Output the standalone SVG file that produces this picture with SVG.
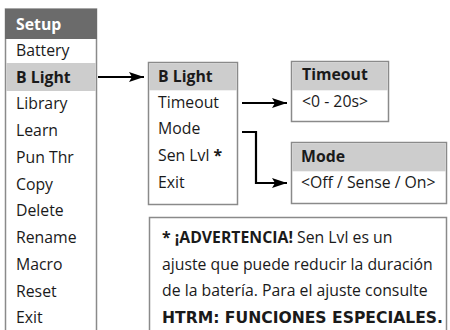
<svg xmlns="http://www.w3.org/2000/svg" width="450" height="330" viewBox="0 0 450 330">
<defs>
<style>
.t{font-family:"Open Sans","Noto Sans",sans-serif;font-size:15.8px;fill:#1a1a1a}
.b{font-weight:bold}
.w{font-family:"DejaVu Sans",sans-serif;font-size:15.6px}
.box{fill:#fff;stroke:#8a8a8a;stroke-width:1.5}
.hd{fill:#cdcdcd}
.ln{fill:none;stroke:#000;stroke-width:2.2}
</style>
<marker id="ah" markerWidth="15" markerHeight="10" refX="15" refY="5" orient="auto" markerUnits="userSpaceOnUse">
<path d="M0,0 L15,5 L0,10 L3,5 Z" fill="#000"/>
</marker>
</defs>
<rect width="450" height="330" fill="#fff"/>
<g id="setup">
<rect class="box" x="5.5" y="9" width="91" height="330"/>
<rect x="5" y="9" width="92" height="30" fill="#6b6b6b"/>
<rect class="hd" x="6.3" y="63" width="89.5" height="28"/>
<text class="t b" x="16" y="30" style="fill:#fff">Setup</text>
<text class="t" x="16" y="56">Battery</text>
<text class="t b" x="16" y="83">B Light</text>
<text class="t" x="16" y="109">Library</text>
<text class="t" x="16" y="136">Learn</text>
<text class="t" x="16" y="163">Pun Thr</text>
<text class="t" x="16" y="190">Copy</text>
<text class="t" x="16" y="216">Delete</text>
<text class="t" x="16" y="243">Rename</text>
<text class="t" x="16" y="270">Macro</text>
<text class="t" x="16" y="297">Reset</text>
<text class="t" x="16" y="323">Exit</text>
</g>
<g id="blight">
<rect class="box" x="148.5" y="62.5" width="89" height="142"/>
<rect class="hd" x="149.3" y="63.3" width="87.4" height="27"/>
<text class="t b" x="158" y="82">B Light</text>
<text class="t" x="158" y="108">Timeout</text>
<text class="t" x="158" y="134">Mode</text>
<text class="t" x="158" y="161">Sen Lvl <tspan class="b">*</tspan></text>
<text class="t" x="158" y="188">Exit</text>
</g>
<g id="timeout">
<rect class="box" x="291.5" y="61.5" width="97" height="60"/>
<rect class="hd" x="292.3" y="62.3" width="95.4" height="28"/>
<text class="t b" x="302" y="80">Timeout</text>
<text class="t" x="302" y="107">&lt;0 - 20s&gt;</text>
</g>
<g id="mode">
<rect class="box" x="291.5" y="142.5" width="155" height="61"/>
<rect class="hd" x="292.3" y="143.3" width="153.4" height="28"/>
<text class="t b" x="301" y="162">Mode</text>
<text class="t" x="301" y="188">&lt;Off / Sense / On&gt;</text>
</g>
<g id="note">
<rect class="box" x="149.5" y="217.5" width="297" height="130"/>
<text class="t" x="162" y="243"><tspan class="b">* ¡ADVERTENCIA!</tspan> Sen Lvl es un</text>
<text class="t" x="162" y="270">ajuste que puede reducir la duración</text>
<text class="t" x="162" y="296">de la batería. Para el ajuste consulte</text>
<text class="t b w" x="162" y="323" textLength="281" lengthAdjust="spacingAndGlyphs">HTRM: FUNCIONES ESPECIALES.</text>
</g>
<g id="connectors">
<path class="ln" d="M98,77 H144" marker-end="url(#ah)"/>
<path class="ln" d="M242,103 H287" marker-end="url(#ah)"/>
<path class="ln" d="M242,132 H256 V183 H287" marker-end="url(#ah)"/>
</g>
</svg>
